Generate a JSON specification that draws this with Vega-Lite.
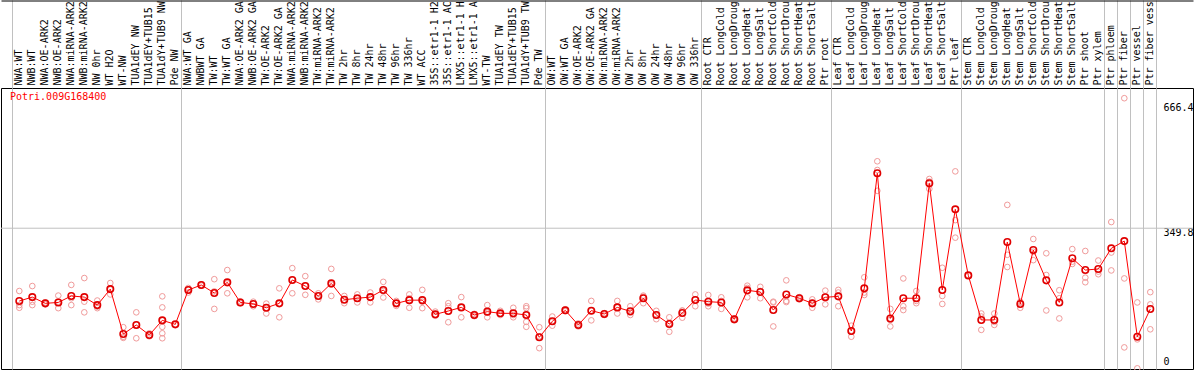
{
  "$schema": "https://vega.github.io/schema/vega-lite/v6.json",
  "width": 1192,
  "height": 281,
  "autosize": {"type": "none"},
  "padding": {"left": 1, "top": 88, "right": 1, "bottom": 1},
  "background": "white",
  "config": {
    "view": {"stroke": "black", "strokeWidth": 1},
    "axis": {"labelFont": "DejaVu Sans Mono", "labelFontSize": 10, "labelColor": "black"}
  },
  "data": {"values": [
    {"s": "01 NWA:WT", "v": 158.8, "r": [185, 148, 141]},
    {"s": "02 NWB:WT", "v": 169, "r": [198, 157, 148]},
    {"s": "03 NWA:OE-ARK2", "v": 152.6, "r": [155, 150, 153]},
    {"s": "04 NWB:OE-ARK2", "v": 155, "r": [173, 157, 140]},
    {"s": "05 NWA:miRNA-ARK2", "v": 172, "r": [201, 166, 148]},
    {"s": "06 NWB:miRNA-ARK2", "v": 169, "r": [219, 157, 129]},
    {"s": "07 NW 0hr", "v": 148, "r": [160, 144, 140]},
    {"s": "08 WT H2O", "v": 190, "r": [206, 176, 189]},
    {"s": "09 WT-NW", "v": 72, "r": [90, 65, 62]},
    {"s": "10 TUA1dEY NW", "v": 95.8, "r": [129, 61, 96]},
    {"s": "11 TUA1dEY+TUB15", "v": 69.6, "r": [74, 68, 66]},
    {"s": "12 TUA1dY+TUB9 NW", "v": 108, "r": [171, 142, 108, 91, 74, 61]},
    {"s": "13 Pde NW", "v": 97.5, "r": [97.5]},
    {"s": "14 NWA:WT GA", "v": 187.6, "r": [181, 193, 189]},
    {"s": "15 NWBWT GA", "v": 200.8, "r": [202, 199, 201]},
    {"s": "16 TW:WT", "v": 179.8, "r": [216, 138, 184]},
    {"s": "17 TW:WT GA", "v": 207.8, "r": [240, 179, 205]},
    {"s": "18 NWA:OE-ARK2 GA", "v": 155, "r": [158, 153, 154]},
    {"s": "19 NWB:OE-ARK2 GA", "v": 151, "r": [157, 145, 151]},
    {"s": "20 TW:OE-ARK2", "v": 141, "r": [152, 126, 141]},
    {"s": "21 TW:OE-ARK2 GA", "v": 152.6, "r": [192, 116, 152]},
    {"s": "22 NWA:miRNA-ARK2", "v": 214, "r": [245, 179, 214]},
    {"s": "23 NWB:miRNA-ARK2", "v": 198, "r": [224, 175, 198]},
    {"s": "24 TW:miRNA-ARK2", "v": 172, "r": [179, 163, 173]},
    {"s": "25 TW:miRNA-ARK2", "v": 205, "r": [243, 172, 202]},
    {"s": "26 TW 2hr", "v": 162, "r": [172, 153, 162]},
    {"s": "27 TW 8hr", "v": 166, "r": [176, 155, 166]},
    {"s": "28 TW 24hr", "v": 169, "r": [181, 155, 169]},
    {"s": "29 TW 48hr", "v": 187.6, "r": [209, 168, 185]},
    {"s": "30 TW 96hr", "v": 152.6, "r": [159, 146, 153]},
    {"s": "31 TW 336hr", "v": 161, "r": [176, 141, 166]},
    {"s": "32 WT ACC", "v": 161, "r": [188, 140, 157]},
    {"s": "33 35S::etr1-1 H2", "v": 123.8, "r": [131, 120, 121]},
    {"s": "34 35S::etr1-1 AC", "v": 132.5, "r": [153, 145, 103]},
    {"s": "35 LMX5::etr1-1 H", "v": 142, "r": [169, 116, 142]},
    {"s": "36 LMX5::etr1-1 A", "v": 122, "r": [125, 119, 122]},
    {"s": "37 WT-TW", "v": 130.8, "r": [148, 116, 128]},
    {"s": "38 TUA1dEY TW", "v": 126.4, "r": [133, 122, 125]},
    {"s": "39 TUA1dEY+TUB15", "v": 126.4, "r": [141, 116, 122]},
    {"s": "40 TUA1dY+TUB9 TW", "v": 122, "r": [145, 140, 122, 104, 91]},
    {"s": "41 Pde TW", "v": 63.5, "r": [90, 35, 66]},
    {"s": "42 OW:WT", "v": 105.5, "r": [118, 94, 105]},
    {"s": "43 OW:WT GA", "v": 134.3, "r": [137, 132, 134]},
    {"s": "44 OW:OE-ARK2", "v": 95.8, "r": [100, 92, 96]},
    {"s": "45 OW:OE-ARK2 GA", "v": 133.4, "r": [159, 108, 133]},
    {"s": "46 OW:miRNA-ARK2", "v": 124.7, "r": [127, 122, 125]},
    {"s": "47 OW:miRNA-ARK2", "v": 142, "r": [159, 126, 142]},
    {"s": "48 OW 2hr", "v": 131.7, "r": [145, 122, 128]},
    {"s": "49 OW 8hr", "v": 166, "r": [173, 153, 170]},
    {"s": "50 OW 24hr", "v": 122, "r": [133, 111, 122]},
    {"s": "51 OW 48hr", "v": 98.4, "r": [116, 78, 101]},
    {"s": "52 OW 96hr", "v": 127.3, "r": [134, 115, 133]},
    {"s": "53 OW 336hr", "v": 161.4, "r": [176, 145, 163]},
    {"s": "54 Root CTR", "v": 157, "r": [174.5, 145, 152]},
    {"s": "55 Root LongCold", "v": 155, "r": [168.5, 138, 159]},
    {"s": "56 Root LongDroug", "v": 110.7, "r": [113, 108, 111]},
    {"s": "57 Root LongHeat", "v": 186.8, "r": [199, 168.5, 193]},
    {"s": "58 Root LongSalt", "v": 182.4, "r": [196, 166, 185]},
    {"s": "59 Root ShortCold", "v": 135, "r": [155, 92, 157]},
    {"s": "60 Root ShortDrou", "v": 176, "r": [213, 159, 156]},
    {"s": "61 Root ShortHeat", "v": 166, "r": [169, 163, 166]},
    {"s": "62 Root ShortSalt", "v": 152.6, "r": [163, 141, 154]},
    {"s": "63 Ptr root", "v": 168.5, "r": [186, 150, 170]},
    {"s": "64 Leaf CTR", "v": 171, "r": [188, 145, 181]},
    {"s": "65 Leaf LongCold", "v": 80, "r": [94, 65, 81]},
    {"s": "66 Leaf LongDroug", "v": 192, "r": [221, 174.5, 181]},
    {"s": "67 Leaf LongHeat", "v": 494, "r": [525.5, 502.6, 448]},
    {"s": "68 Leaf LongSalt", "v": 113, "r": [138, 92, 109]},
    {"s": "69 Leaf ShortCold", "v": 166, "r": [218, 145, 135]},
    {"s": "70 Leaf ShortDrou", "v": 166, "r": [185, 153, 159]},
    {"s": "71 Leaf ShortHeat", "v": 467.7, "r": [479, 472, 453]},
    {"s": "72 Leaf ShortSalt", "v": 187.6, "r": [246, 172, 151]},
    {"s": "73 Ptr leaf", "v": 399.4, "r": [499, 371, 325]},
    {"s": "74 Stem CTR", "v": 226, "r": [226]},
    {"s": "75 Stem LongCold", "v": 109, "r": [126, 83, 118]},
    {"s": "76 Stem LongDroug", "v": 109, "r": [126, 96, 104]},
    {"s": "77 Stem LongHeat", "v": 313.6, "r": [411, 280, 248]},
    {"s": "78 Stem LongSalt", "v": 151, "r": [157, 141, 155]},
    {"s": "79 Stem ShortCold", "v": 292.6, "r": [321.5, 288, 266]},
    {"s": "80 Stem ShortDrou", "v": 213, "r": [284, 227, 134]},
    {"s": "81 Stem ShortHeat", "v": 155, "r": [187, 166, 113]},
    {"s": "82 Stem ShortSalt", "v": 270.8, "r": [295, 262, 256]},
    {"s": "83 Ptr shoot", "v": 240, "r": [290, 220, 208]},
    {"s": "84 Ptr xylem", "v": 242.8, "r": [265, 236, 229]},
    {"s": "85 Ptr phloem", "v": 297, "r": [366, 286, 239]},
    {"s": "86 Ptr fiber", "v": 316, "r": [691, 218, 37]},
    {"s": "87 Ptr vessel", "v": 65, "r": [155, 58, -18]},
    {"s": "88 Ptr fiber vess", "v": 137.8, "r": [182, 150, 84.5]}
  ]},
  "resolve": {"scale": {"x": "independent"}, "axis": {"x": "independent", "y": "independent"}},
  "layer": [
    {
      "data": {"values": [{"ref": 349.8}]},
      "mark": {"type": "rule", "color": "#c0c0c0", "strokeWidth": 1},
      "encoding": {
        "y": {"field": "ref", "type": "quantitative", "scale": {"domain": [-19.7, 717.8], "nice": false, "zero": false},
              "axis": {"orient": "right", "offset": -36, "values": [349.8], "labelExpr": "'' + datum.value", "domain": false, "ticks": false, "grid": false, "labelPadding": 6, "labelBaseline": "middle", "labelOffset": 4, "title": null}}
      }
    },
    {
      "transform": [{"flatten": ["r"]}],
      "mark": {"type": "point", "shape": "circle", "filled": false, "color": "#f09a9a", "size": 32, "strokeWidth": 1, "opacity": 1},
      "encoding": {
        "x": {"field": "s", "type": "ordinal", "scale": {"type": "band", "paddingInner": 0, "paddingOuter": 0, "range": [11.8, 1155.8]},
              "axis": {"orient": "top", "values": ["88 Ptr fiber vess"], "bandPosition": 1, "labels": false, "domain": false, "ticks": true, "tickSize": 88, "tickColor": "#c0c0c0", "grid": true, "gridColor": "#c0c0c0", "title": null}},
        "y": {"field": "r", "type": "quantitative", "scale": {"domain": [-19.7, 717.8], "nice": false, "zero": false}, "axis": null}
      }
    },
    {
      "mark": {"type": "line", "color": "#ff0000", "strokeWidth": 1},
      "encoding": {
        "x": {"field": "s", "type": "ordinal", "scale": {"type": "band", "paddingInner": 0, "paddingOuter": 0, "range": [11.8, 1155.8]},
              "axis": {"orient": "top", "labelAngle": -90, "labelAlign": "left", "labelBaseline": "middle", "labelPadding": 3, "labelExpr": "substring(datum.value, 3)", "ticks": false, "domain": false, "grid": false, "labelOverlap": false, "labelLimit": 200, "title": null}},
        "y": {"field": "v", "type": "quantitative", "scale": {"domain": [-19.7, 717.8], "nice": false, "zero": false},
              "axis": {"orient": "right", "offset": -36, "values": [0, 666.4], "labelExpr": "'' + datum.value", "domain": false, "ticks": false, "grid": false, "labelPadding": 6, "labelBaseline": "middle", "title": null}}
      }
    },
    {
      "mark": {"type": "point", "shape": "circle", "filled": false, "color": "#e00000", "size": 42, "strokeWidth": 1.6, "opacity": 1},
      "encoding": {
        "x": {"field": "s", "type": "ordinal", "scale": {"type": "band", "paddingInner": 0, "paddingOuter": 0, "range": [11.8, 1155.8]},
              "axis": {"orient": "top", "values": ["01 NWA:WT", "14 NWA:WT GA", "42 OW:WT", "54 Root CTR", "64 Leaf CTR", "74 Stem CTR", "85 Ptr phloem", "86 Ptr fiber", "87 Ptr vessel", "88 Ptr fiber vess"], "bandPosition": 0, "labels": false, "domain": false, "ticks": true, "tickSize": 88, "tickColor": "#c0c0c0", "grid": true, "gridColor": "#c0c0c0", "title": null}},
        "y": {"field": "v", "type": "quantitative", "scale": {"domain": [-19.7, 717.8], "nice": false, "zero": false}, "axis": null}
      }
    },
    {
      "data": {"values": [{"gene": "Potri.009G168400"}]},
      "mark": {"type": "text", "color": "#ff0000", "font": "DejaVu Sans Mono", "fontSize": 10, "align": "left", "baseline": "middle", "dx": 9},
      "encoding": {
        "text": {"field": "gene"},
        "x": {"field": "gene", "type": "nominal", "bandPosition": 0, "scale": {"type": "band", "paddingInner": 0, "paddingOuter": 0},
              "axis": {"orient": "top", "offset": 87.5, "domain": true, "domainColor": "black", "domainWidth": 1, "labels": false, "ticks": false, "grid": false, "title": null}},
        "y": {"datum": 693, "type": "quantitative", "scale": {"domain": [-19.7, 717.8], "nice": false, "zero": false}, "axis": null}
      }
    }
  ]
}
